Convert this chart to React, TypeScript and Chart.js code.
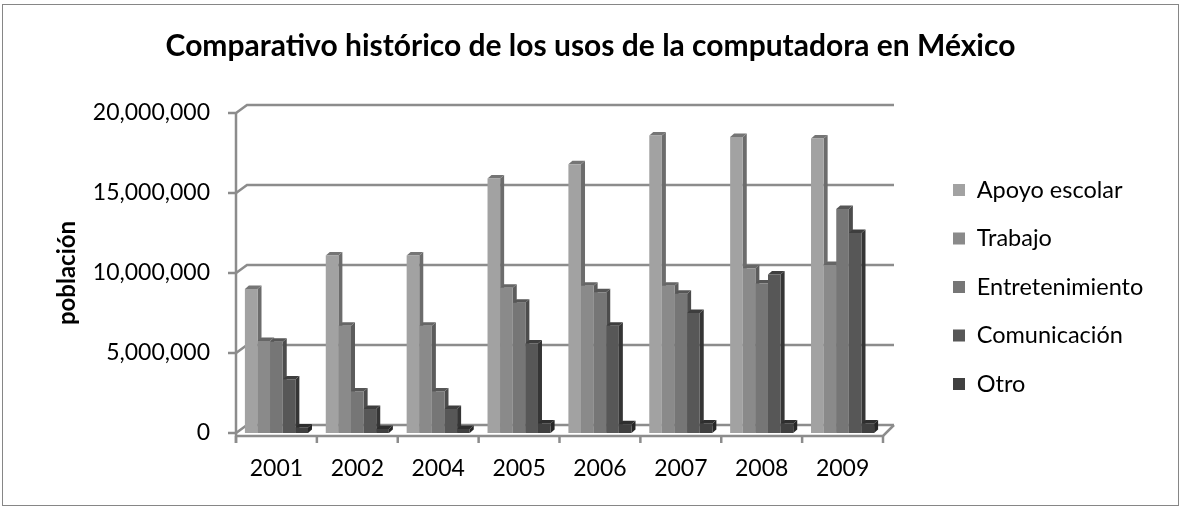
import React, { useEffect, useRef } from 'react';
import { Chart, registerables } from 'chart.js';

Chart.register(...registerables);

// ---------- data ----------
const YEARS = ['2001', '2002', '2004', '2005', '2006', '2007', '2008', '2009'];
const SERIES_NAMES = ['Apoyo escolar', 'Trabajo', 'Entretenimiento', 'Comunicación', 'Otro'];
const APOYO_ESCOLAR = [9000000, 11100000, 11100000, 15900000, 16800000, 18600000, 18500000, 18400000];
const TRABAJO = [5750000, 6700000, 6700000, 9080000, 9200000, 9200000, 10300000, 10500000];
const ENTRETENIMIENTO = [5700000, 2600000, 2600000, 8140000, 8800000, 8700000, 9350000, 14000000];
const COMUNICACION = [3350000, 1500000, 1500000, 5600000, 6700000, 7500000, 9900000, 12500000];
const OTRO = [350000, 250000, 250000, 600000, 550000, 600000, 600000, 600000];
const Y_MIN = 0;
const Y_MAX = 20000000;
const Y_STEP = 5000000;
const TITLE = 'Comparativo histórico de los usos de la computadora en México';
const Y_TITLE = 'población';

// ---------- styles ----------
const FONT = 'Lato';
const TICK_SIZE = 23;
const LEGEND_SIZE = 23.5;
const TITLE_SIZE = 30;
const Y_TITLE_SIZE = 24;
const FRONT_COLORS = ['#a2a2a2', '#8a8a8a', '#767676', '#575757', '#404040'];
const SIDE_COLORS = ['#6c6c6c', '#5c5c5c', '#4c4c4c', '#353535', '#262626'];
const TOP_COLORS = ['#757575', '#666666', '#565656', '#3e3e3e', '#2e2e2e'];
const LINE_COLOR = '#8c8c8c';
const WALL_DX = 11;
const WALL_DY = 8;
const BAR_DX = 4;
const BAR_DY = 3.5;

const W = 1179;
const H = 506;
const PLOT_LEFT = 236;
const PLOT_RIGHT = 883;
const PLOT_TOP = 113;
const PLOT_BOTTOM = 433;
const LEGEND_PAD = 25;
const LEGEND_BOX = 12;
const LEGEND_ITEM_LEFT = 953;

const excel3d = {
  id: 'excel3d',
  beforeDatasetsDraw(chart: any) {
    const { ctx, chartArea, scales } = chart;
    const { left, right, top, bottom } = chartArea;
    const x = scales.x;
    const y = scales.y;
    ctx.save();
    ctx.strokeStyle = LINE_COLOR;
    ctx.lineWidth = 2.5;
    ctx.lineJoin = 'miter';
    y.ticks.forEach((t: any) => {
      const py = y.getPixelForValue(t.value);
      ctx.beginPath();
      ctx.moveTo(left - 8, py);
      ctx.lineTo(left, py);
      ctx.lineTo(left + WALL_DX, py - WALL_DY);
      ctx.lineTo(right + WALL_DX, py - WALL_DY);
      ctx.stroke();
    });
    const floorY = bottom + 3;
    ctx.beginPath();
    ctx.moveTo(left, top);
    ctx.lineTo(left, floorY + 7);
    ctx.stroke();
    ctx.beginPath();
    ctx.moveTo(left, floorY);
    ctx.lineTo(right, floorY);
    ctx.lineTo(right + WALL_DX, bottom - WALL_DY);
    ctx.stroke();
    const n = x.ticks.length;
    const cw = (right - left) / n;
    for (let i = 0; i <= n; i++) {
      ctx.beginPath();
      ctx.moveTo(left + i * cw, floorY);
      ctx.lineTo(left + i * cw, floorY + 7);
      ctx.stroke();
    }
    chart.data.datasets.forEach((_ds: any, di: number) => {
      const meta = chart.getDatasetMeta(di);
      meta.data.forEach((bar: any) => {
        const p = bar.getProps(['x', 'y', 'base', 'width'], true);
        const l = p.x - p.width / 2;
        const r = p.x + p.width / 2;
        ctx.fillStyle = SIDE_COLORS[di];
        ctx.beginPath();
        ctx.moveTo(r, p.y);
        ctx.lineTo(r + BAR_DX, p.y - BAR_DY);
        ctx.lineTo(r + BAR_DX, p.base - BAR_DY);
        ctx.lineTo(r, p.base);
        ctx.closePath();
        ctx.fill();
        ctx.fillStyle = TOP_COLORS[di];
        ctx.beginPath();
        ctx.moveTo(l, p.y);
        ctx.lineTo(l + BAR_DX, p.y - BAR_DY);
        ctx.lineTo(r + BAR_DX, p.y - BAR_DY);
        ctx.lineTo(r, p.y);
        ctx.closePath();
        ctx.fill();
      });
    });
    ctx.restore();
  },
};

export default function App() {
  const ref = useRef<HTMLCanvasElement>(null);

  useEffect(() => {
    document.body.style.margin = '0';
    const canvas = ref.current!;
    const mctx = canvas.getContext('2d')!;
    mctx.font = `${LEGEND_SIZE}px ${FONT}`;
    const textW = Math.max(...SERIES_NAMES.map((s) => mctx.measureText(s).width));
    const legendLeft = LEGEND_ITEM_LEFT - LEGEND_PAD;
    const legendW = LEGEND_PAD + LEGEND_BOX + LEGEND_SIZE / 2 + textW + 10;
    const padR = Math.max(0, W - legendLeft - legendW);
    const padL = padR + 2;
    const yTitleLH = Y_TITLE_SIZE * 1.2;
    const yTitlePadTop = Math.max(0, 67.5 - yTitleLH / 2 - padL);
    const titleLH = TITLE_SIZE * 1.2;
    const titlePadTop = 46 - titleLH / 2;
    const titlePadBottom = PLOT_TOP - titlePadTop - titleLH;
    const legendSpacer = 190 - LEGEND_PAD - LEGEND_SIZE / 2;

    const seriesValues = [APOYO_ESCOLAR, TRABAJO, ENTRETENIMIENTO, COMUNICACION, OTRO];

    const chart = new Chart(canvas, {
      type: 'bar',
      data: {
        labels: YEARS,
        datasets: SERIES_NAMES.map((name, i) => ({
          label: name,
          data: seriesValues[i],
          backgroundColor: FRONT_COLORS[i],
          borderWidth: 0,
          categoryPercentage: 0.78,
          barPercentage: 1.0,
        })),
      },
      options: {
        responsive: false,
        animation: false,
        devicePixelRatio: 1,
        layout: { padding: { left: padL, right: padR, top: 0, bottom: 0 } },
        plugins: {
          title: {
            display: true,
            text: TITLE,
            color: '#000',
            font: { family: FONT, size: TITLE_SIZE, weight: 'bold', lineHeight: 1.2 },
            padding: { top: titlePadTop, bottom: titlePadBottom },
          },
          legend: {
            display: true,
            position: 'right',
            align: 'start',
            maxWidth: 500,
            title: {
              display: true,
              text: '',
              font: { size: 10, lineHeight: 1 },
              padding: { top: legendSpacer - 10, bottom: 0 },
            },
            labels: {
              color: '#000',
              font: { family: FONT, size: LEGEND_SIZE },
              boxWidth: LEGEND_BOX,
              boxHeight: LEGEND_BOX,
              padding: LEGEND_PAD,
            },
          },
          tooltip: { enabled: false },
        },
        scales: {
          x: {
            type: 'category',
            grid: { display: false, drawTicks: false },
            border: { display: false },
            ticks: { color: '#000', font: { family: FONT, size: TICK_SIZE }, padding: 22 },
            afterFit: (s: any) => {
              s.height = H - PLOT_BOTTOM;
            },
          },
          y: {
            type: 'linear',
            min: Y_MIN,
            max: Y_MAX,
            grid: { display: false, drawTicks: false },
            border: { display: false },
            ticks: {
              stepSize: Y_STEP,
              color: '#000',
              font: { family: FONT, size: TICK_SIZE },
              padding: 26,
              callback: (v: any) => Number(v).toLocaleString('en-US'),
            },
            title: {
              display: true,
              text: Y_TITLE,
              color: '#000',
              font: { family: FONT, size: Y_TITLE_SIZE, weight: 'bold', lineHeight: 1.2 },
              padding: { top: yTitlePadTop, bottom: 0 },
            },
            afterFit: (s: any) => {
              s.width = PLOT_LEFT - padL;
            },
          },
          yR: {
            type: 'linear',
            position: 'right',
            display: true,
            grid: { display: false, drawTicks: false },
            border: { display: false },
            ticks: { display: false },
            afterFit: (s: any) => {
              s.width = legendLeft - PLOT_RIGHT;
            },
          },
        },
      },
      plugins: [excel3d],
    } as any);
    return () => chart.destroy();
  }, []);

  return (
    <div style={{ position: 'relative', width: W, height: H, background: '#fff' }}>
      <canvas ref={ref} width={W} height={H} style={{ display: 'block' }} />
      <div
        style={{
          position: 'absolute',
          left: 2,
          top: 4,
          width: 1177,
          height: 502,
          border: '1px solid #868686',
          boxSizing: 'border-box',
          pointerEvents: 'none',
        }}
      />
    </div>
  );
}
